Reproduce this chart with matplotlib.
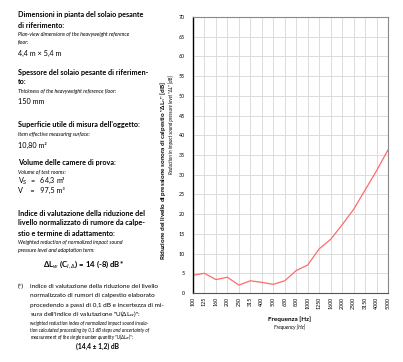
import numpy as np
import matplotlib.pyplot as plt

freqs = ["100", "125", "160", "200", "250", "315", "400", "500", "630", "800",
         "1000", "1250", "1600", "2000", "2500", "3150", "4000", "5000"]
delta_l = [4.5, 5.0, 3.4, 4.0, 2.0, 3.1, 2.7, 2.2, 3.1, 5.7,
           7.1, 11.2, 13.6, 17.3, 21.2, 26.1, 31.0, 36.3]

plt.rcParams['font.family'] = ['Lato', 'DejaVu Sans']

W, H = 403, 362
fig = plt.figure(figsize=(W / 100, H / 100), dpi=100)

ax = fig.add_axes([193 / W, 1 - 293 / H, 195 / W, 276 / H])
x = np.arange(len(freqs))
ax.plot(x, delta_l, color='#ff6b6b', lw=0.9)
ax.set_xlim(0, len(freqs) - 1)
ax.set_ylim(0, 70)
ax.set_yticks(np.arange(0, 71, 5))
ax.set_xticks(x)
ax.set_xticklabels(freqs, rotation=90, fontsize=3.8)
ax.tick_params(axis='y', labelsize=3.8, length=0, pad=6)
ax.tick_params(axis='x', length=0, pad=3)
ax.grid(True, color='#dcdcdc', lw=0.7)
for s in ['top', 'right']:
    ax.spines[s].set_color('#888888')
    ax.spines[s].set_linewidth(0.8)
ax.spines['left'].set_color('black')
ax.spines['left'].set_linewidth(1.0)
ax.spines['bottom'].set_color('#555555')
ax.spines['bottom'].set_linewidth(0.8)
ax.set_axisbelow(True)

# axis titles
fig.text(290 / W, 1 - 319 / H, "Frequenza [Hz]", ha='center', va='center',
         fontsize=4.6, fontweight='bold')
fig.text(290 / W, 1 - 327 / H, "Frequency [Hz]", ha='center', va='center',
         fontsize=3.6, style='italic')
fig.text(163 / W, 1 - 170 / H,
         "Riduzione del livello di pressione sonora di calpestio \"\u0394L$_n$\" [dB]",
         ha='center', va='center', rotation=90, fontsize=4.6, fontweight='bold')
fig.text(171 / W, 1 - 125 / H,
         "Reduction in impact sound pressure level \"\u0394L\" [dB]",
         ha='center', va='center', rotation=90, fontsize=3.4, style='italic')

# left text panel
L = 18 / W


def t(y, s, size=5.2, weight='normal', style='normal', xpos=L, ha='left'):
    fig.text(xpos, 1 - y / H, s, ha=ha, va='center', fontsize=size,
             fontweight=weight, style=style)


t(15, "Dimensioni in pianta del solaio pesante", weight='bold')
t(25, "di riferimento:", weight='bold')
t(34, "Plan-view dimensions of the heavyweight reference", size=3.8, style='italic')
t(42, "floor:", size=3.8, style='italic')
t(53, "4,4 m \u00d7 5,4 m")

t(73, "Spessore del solaio pesante di riferimen-", weight='bold')
t(82, "to:", weight='bold')
t(91, "Thickness of the heavyweight reference floor:", size=3.8, style='italic')
t(102, "150 mm")

t(125, "Superficie utile di misura dell'oggetto:", weight='bold')
t(134, "Item effective measuring surface:", size=3.8, style='italic')
t(145, "10,80 m\u00b2")

t(163, "Volume delle camere di prova:", weight='bold')
t(172, "Volume of test rooms:", size=3.8, style='italic')
t(181, "V$_S$  =   64,3 m\u00b3")
t(190, "V    =   97,5 m\u00b3")

t(213, "Indice di valutazione della riduzione del", weight='bold')
t(223, "livello normalizzato di rumore da calpe-", weight='bold')
t(233, "stio e termine di adattamento:", weight='bold')
t(242, "Weighted reduction of normalized impact sound", size=3.8, style='italic')
t(250, "pressure level and adaptation term:", size=3.8, style='italic')
t(265, "\u0394L$_w$ (C$_{I,\u0394}$) = 14 (-8) dB*", size=5.6, weight='bold',
  xpos=83 / W, ha='center')

t(286, "(*)", size=4.6)
L2 = 30 / W
t(286, "indice di valutazione della riduzione del livello", size=4.6, xpos=L2)
t(295, "normalizzato di rumori di calpestio elaborato", size=4.6, xpos=L2)
t(305, "procedendo a passi di 0,1 dB e incertezza di mi-", size=4.6, xpos=L2)
t(314, "sura dell'indice di valutazione \"U(\u0394L$_w$)\":", size=4.6, xpos=L2)
t(323, "weighted reduction index of normalized impact sound insula-", size=3.3,
  style='italic', xpos=L2)
t(330, "tion calculated proceeding by 0,1 dB steps and uncertainty of", size=3.3,
  style='italic', xpos=L2)
t(337, "measurement of the single number quantity \"U(\u0394L$_w$)\":", size=3.3,
  style='italic', xpos=L2)
t(346, "(14,4 \u00b1 1,2) dB", size=4.8, weight='bold', xpos=98 / W, ha='center')

fig.savefig("out.png", dpi=100)
